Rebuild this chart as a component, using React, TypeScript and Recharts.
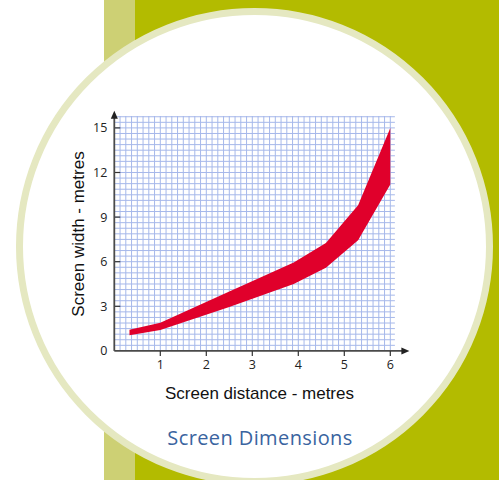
import React from 'react';
import {
  ComposedChart,
  Area,
  XAxis,
  YAxis,
  CartesianGrid,
  ReferenceLine,
  ReferenceDot,
} from 'recharts';

// Screen distance (m) and the range of recommended screen widths (m)
const distance = [0.33, 1.0, 2.5, 3.9, 4.6, 5.3, 6.0];
const widthMin = [1.05, 1.4, 2.95, 4.5, 5.6, 7.45, 11.2];
const widthMax = [1.43, 1.9, 4.0, 5.95, 7.25, 9.8, 15.0];

const xTicks = [1, 2, 3, 4, 5, 6];
const yTicks = [0, 3, 6, 9, 12, 15];

const X_DOMAIN: [number, number] = [0, 6.1];
const Y_DOMAIN: [number, number] = [0, 15.8];

// graph-paper background lines (data units)
const gridX = Array.from({ length: 48 }, (_, i) => (i + 1) * 0.125);
const gridY = Array.from({ length: 42 }, (_, i) => (i + 1) * 0.375);

const data = distance.map((d, i) => ({ d, band: [widthMin[i], widthMax[i]] }));

const arrowRight = (p: any) => (
  <path d={`M${p.cx + 3},${p.cy} L${p.cx - 5},${p.cy - 3.5} L${p.cx - 5},${p.cy + 3.5} Z`} fill="#222" />
);
const arrowUp = (p: any) => (
  <path d={`M${p.cx},${p.cy - 3} L${p.cx - 3.5},${p.cy + 5} L${p.cx + 3.5},${p.cy + 5} Z`} fill="#222" />
);

const vGen = (props: any) => {
  const { xAxis, offset } = props;
  if (xAxis && typeof xAxis.scale === 'function') return gridX.map((v) => xAxis.scale(v));
  return gridX.map((v) => offset.left + ((v - X_DOMAIN[0]) / (X_DOMAIN[1] - X_DOMAIN[0])) * offset.width);
};
const hGen = (props: any) => {
  const { yAxis, offset } = props;
  if (yAxis && typeof yAxis.scale === 'function') return gridY.map((v) => yAxis.scale(v));
  return gridY.map(
    (v) => offset.top + offset.height - ((v - Y_DOMAIN[0]) / (Y_DOMAIN[1] - Y_DOMAIN[0])) * offset.height
  );
};

export default function App() {
  return (
    <div
      style={{
        position: 'absolute',
        left: 0,
        top: 0,
        width: 499,
        height: 480,
        overflow: 'hidden',
        background: '#ffffff',
      }}
    >
      <div style={{ position: 'absolute', left: 104, top: 0, width: 31, height: 480, background: '#cdd074' }} />
      <div style={{ position: 'absolute', left: 135, top: 0, width: 364, height: 480, background: '#b3bb00' }} />
      <div
        style={{
          position: 'absolute',
          left: 16,
          top: 8,
          width: 477,
          height: 477,
          borderRadius: '50%',
          background: '#ffffff',
          boxSizing: 'border-box',
          border: '7px solid #e5e8c1',
        }}
      />
      <div style={{ position: 'absolute', left: 0, top: 0 }}>
        <ComposedChart
          width={499}
          height={480}
          data={data}
          margin={{ top: 116, right: 104.1, bottom: 99.1, left: 74.3 }}
        >
          <CartesianGrid
            stroke="#a6b8ea"
            strokeWidth={1}
            verticalCoordinatesGenerator={vGen}
            horizontalCoordinatesGenerator={hGen}
          />
          <XAxis
            dataKey="d"
            type="number"
            domain={X_DOMAIN}
            ticks={xTicks}
            height={30}
            axisLine={false}
            tickLine={{ stroke: '#333', strokeWidth: 1.2 }}
            tickSize={5}
            tickMargin={4}
            tick={{ fill: '#222', fontSize: 12.5, fontFamily: 'Open Sans' }}
            allowDataOverflow
          />
          <YAxis
            type="number"
            domain={Y_DOMAIN}
            ticks={yTicks}
            width={40}
            axisLine={false}
            tickLine={false}
            tickSize={5}
            tickMargin={2}
            tick={{ fill: '#222', fontSize: 12.5, fontFamily: 'Open Sans' }}
            allowDataOverflow
          />
          <Area
            dataKey="band"
            type="linear"
            stroke="none"
            fill="#e0002b"
            fillOpacity={1}
            isAnimationActive={false}
          />
          {yTicks.slice(1).map((v) => (
            <ReferenceLine
              key={v}
              segment={[{ x: 0, y: v }, { x: 0.13, y: v }]}
              stroke="#333"
              strokeWidth={1.2}
              ifOverflow="visible"
            />
          ))}
          <ReferenceLine
            segment={[{ x: 0, y: 0 }, { x: 6.35, y: 0 }]}
            stroke="#4a4a4a"
            strokeWidth={1.8}
            ifOverflow="visible"
          />
          <ReferenceLine
            segment={[{ x: 0, y: 0 }, { x: 0, y: 15.95 }]}
            stroke="#4a4a4a"
            strokeWidth={1.8}
            ifOverflow="visible"
          />
          <ReferenceDot x={6.35} y={0} r={3} ifOverflow="visible" shape={arrowRight} />
          <ReferenceDot x={0} y={15.95} r={3} ifOverflow="visible" shape={arrowUp} />
        </ComposedChart>
      </div>
      <div
        style={{
          position: 'absolute',
          left: 78,
          top: 234,
          transform: 'translate(-50%, -50%) rotate(-90deg)',
          whiteSpace: 'nowrap',
          fontFamily: '"Liberation Sans", Arial, sans-serif',
          fontSize: 17,
          color: '#111',
          lineHeight: 1,
        }}
      >
        Screen width - metres
      </div>
      <div
        style={{
          position: 'absolute',
          left: 259.5,
          top: 393,
          transform: 'translate(-50%, -50%)',
          whiteSpace: 'nowrap',
          fontFamily: '"Liberation Sans", Arial, sans-serif',
          fontSize: 17,
          color: '#111',
          lineHeight: 1,
        }}
      >
        Screen distance - metres
      </div>
      <div
        style={{
          position: 'absolute',
          left: 260,
          top: 438,
          transform: 'translate(-50%, -50%)',
          whiteSpace: 'nowrap',
          fontFamily: '"Open Sans", sans-serif',
          fontSize: 20,
          letterSpacing: 0.4,
          color: '#3a64a0',
          lineHeight: 1,
        }}
      >
        Screen Dimensions
      </div>
    </div>
  );
}
